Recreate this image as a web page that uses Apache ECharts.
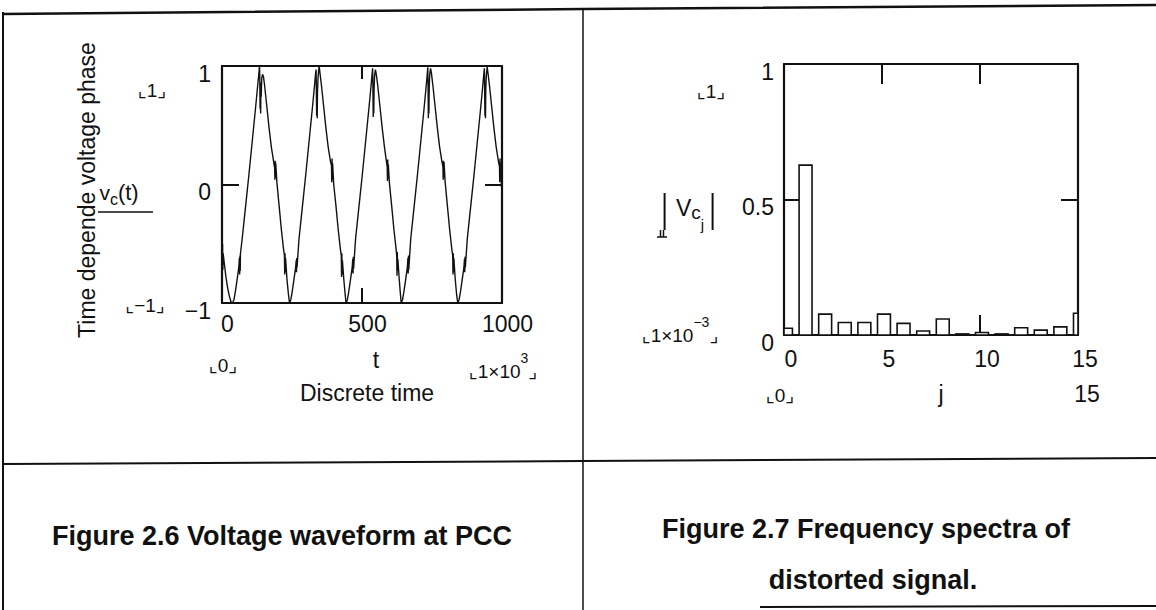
<!DOCTYPE html>
<html>
<head>
<meta charset="utf-8">
<script src="https://cdn.jsdelivr.net/npm/echarts@6.0.0/dist/echarts.min.js"></script>
<style>
  html, body { margin: 0; padding: 0; background: #fff; }
  #chart { width: 1156px; height: 610px; }
</style>
</head>
<body>
<div id="chart"></div>
<script>
// Phase voltage at the PCC: [discrete time t, v_c(t)]
const voltageSamples = [
  [0,-0.52],[1,-0.70],[2,-0.50],[3,-0.72],[4,-0.58],[8,-0.66],[14,-0.78],[20,-0.87],[26,-0.94],[32,-0.99],[38,-1.00],
  [43,-0.97],[48,-0.90],[54,-0.80],[60,-0.70],[62,-0.62],[63,-0.76],[64,-0.60],[65,-0.73],[66,-0.58],[72,-0.46],[80,-0.28],[88,-0.10],[96,0.08],[104,0.27],[112,0.46],[120,0.65],[126,0.80],[131,0.92],[134,1.00],[135,0.90],[136,0.64],[137,0.86],[138,0.60],[139,0.82],[140,0.74],[142,0.90],[145,0.93],[148,0.91],[152,0.84],[160,0.66],[168,0.48],[176,0.32],[184,0.20],[188,0.14],[189,0.04],[190,0.20],[191,0.06],[192,0.18],[196,0.02],[204,-0.18],[212,-0.38],[220,-0.55],[223,-0.60],[224,-0.76],[225,-0.58],[226,-0.74],[227,-0.62],[232,-0.80],[237,-0.92],[241,-1.00],
  [246,-0.97],[251,-0.90],[257,-0.80],[263,-0.70],[265,-0.64],[266,-0.74],[267,-0.62],[268,-0.70],[275,-0.46],[283,-0.28],[291,-0.10],[299,0.08],[307,0.27],[315,0.46],[323,0.65],[329,0.80],[334,0.93],[336,0.97],[337,0.80],[338,0.58],[339,0.84],[340,0.56],[341,0.78],[343,0.90],[345,0.96],[347,1.00],[350,0.94],[355,0.84],[363,0.66],[371,0.48],[379,0.32],[387,0.20],[391,0.16],[392,0.02],[393,0.22],[394,0.04],[395,0.18],[399,0.00],[407,-0.18],[415,-0.38],[423,-0.55],[426,-0.60],[427,-0.78],[428,-0.58],[429,-0.76],[430,-0.64],[435,-0.80],[440,-0.93],[443,-1.00],
  [448,-0.97],[453,-0.90],[459,-0.80],[465,-0.70],[467,-0.63],[468,-0.75],[469,-0.61],[470,-0.71],[477,-0.46],[485,-0.28],[493,-0.10],[501,0.08],[509,0.27],[517,0.46],[525,0.65],[531,0.80],[536,0.93],[538,0.98],[539,0.82],[540,0.57],[541,0.86],[542,0.60],[543,0.80],[545,0.92],[548,0.97],[551,0.93],[556,0.84],[564,0.66],[572,0.48],[580,0.32],[587,0.20],[590,0.15],[591,0.03],[592,0.21],[593,0.05],[594,0.17],[598,0.01],[606,-0.18],[614,-0.38],[622,-0.55],[624,-0.60],[625,-0.77],[626,-0.57],[627,-0.73],[628,-0.63],[633,-0.80],[637,-0.92],[640,-1.00],
  [645,-0.97],[650,-0.90],[656,-0.80],[662,-0.70],[664,-0.62],[665,-0.75],[666,-0.60],[667,-0.72],[674,-0.46],[682,-0.28],[690,-0.10],[698,0.08],[706,0.27],[714,0.46],[722,0.65],[728,0.80],[733,0.93],[735,0.99],[736,0.84],[737,0.56],[738,0.86],[739,0.60],[740,0.82],[742,0.93],[745,0.98],[748,0.94],[753,0.84],[761,0.66],[769,0.48],[777,0.32],[785,0.20],[789,0.15],[790,0.04],[791,0.20],[792,0.06],[793,0.19],[797,0.02],[805,-0.18],[813,-0.38],[821,-0.55],[824,-0.60],[825,-0.76],[826,-0.58],[827,-0.74],[828,-0.62],[833,-0.80],[838,-0.93],[842,-1.00],
  [847,-0.97],[852,-0.90],[858,-0.80],[864,-0.70],[866,-0.63],[867,-0.74],[868,-0.61],[869,-0.70],[876,-0.46],[884,-0.28],[892,-0.10],[900,0.08],[908,0.27],[916,0.46],[924,0.65],[930,0.80],[935,0.93],[937,0.98],[938,0.82],[939,0.58],[940,0.84],[941,0.56],[942,0.80],[944,0.92],[947,0.99],[950,0.94],[955,0.84],[963,0.66],[971,0.48],[979,0.32],[987,0.20],[991,0.15],[992,0.02],[993,0.22],[994,0.05],[995,0.18],[997,0.08],[998,-0.02],[1000,0.04]
];

// Spectrum magnitudes |Vc_j| for j = 0..15
const harmonicIndex = [0, 1, 2, 3, 4, 5, 6, 7, 8, 9, 10, 11, 12, 13, 14, 15];
const spectrumMagnitude = [0.025, 0.627, 0.077, 0.046, 0.046, 0.077, 0.043, 0.015, 0.059, 0.004, 0.009, 0.004, 0.027, 0.018, 0.030, 0.080];

// Tick label text
const voltageTickText = { '-1': '−1', '0': '0', '1': '1' };
const timeTickText = { '0': '0', '500': '500', '1000': '1000' };
const spectrumTickText = { '0': '0', '0.5': '0.5', '1': '1' };

const ink = '#111';
const face = '"Liberation Sans", Arial, "DejaVu Sans", sans-serif';

const spectrumData = harmonicIndex.map((j, i) => [j, spectrumMagnitude[i]]);

function frameAxis(gridIndex, position, min, max, interval, tickLen, label) {
  return {
    type: 'value', gridIndex, position, min, max, interval,
    axisLine: { show: true, onZero: false, lineStyle: { color: ink, width: 2.2 } },
    axisTick: { show: true, inside: true, length: tickLen, lineStyle: { color: ink, width: 2 } },
    axisLabel: label ? Object.assign({ color: ink, fontSize: 23, fontFamily: face }, label) : { show: false },
    splitLine: { show: false }
  };
}

function txt(x, y, text, size, extra, rotation) {
  return {
    type: 'text', x, y, rotation: rotation || 0, silent: true,
    style: Object.assign({ text, fill: ink, fontSize: size, fontFamily: face, align: 'center', verticalAlign: 'middle' }, extra || {})
  };
}

function line(points, width) {
  return { type: 'polyline', silent: true, shape: { points }, style: { stroke: ink, lineWidth: width, fill: 'none' } };
}

function richText(x, y, text, rich) {
  return { type: 'text', x, y, silent: true, style: { text, align: 'center', verticalAlign: 'middle', rich } };
}

function tok(size, valign) {
  return { fontSize: size, fontFamily: face, fill: ink, lineHeight: 30, verticalAlign: valign };
}

const barShift = 0.1;   // bars sit slightly right of their index
const barHalf = 0.33;   // half bar width in index units

const chart = echarts.init(document.getElementById('chart'), null, { renderer: 'svg', width: 1156, height: 610 });

chart.setOption({
  animation: false,
  backgroundColor: '#fff',
  grid: [
    { left: 222, top: 66, width: 280, height: 237 },
    { left: 784, top: 64, width: 294, height: 271 }
  ],
  xAxis: [
    frameAxis(0, 'bottom', 0, 1000, 500, 15, { margin: 9, padding: [0, 0, 0, 11], formatter: v => timeTickText[String(v)] }),
    frameAxis(0, 'top', 0, 1000, 500, 13, null),
    frameAxis(1, 'bottom', 0, 15, 5, 20, { margin: 12, padding: [0, 0, 0, 14] }),
    frameAxis(1, 'top', 0, 15, 5, 20, null)
  ],
  yAxis: [
    frameAxis(0, 'left', -1, 1, 1, 17, { margin: 11, verticalAlign: 'top', lineHeight: 15, formatter: v => voltageTickText[String(v)] }),
    frameAxis(0, 'right', -1, 1, 1, 17, null),
    frameAxis(1, 'left', 0, 1, 0.5, 15, { margin: 10, verticalAlign: 'top', lineHeight: 15, formatter: v => spectrumTickText[String(v)] }),
    frameAxis(1, 'right', 0, 1, 0.5, 17, null)
  ],
  series: [
    {
      type: 'line', xAxisIndex: 0, yAxisIndex: 0,
      data: voltageSamples, showSymbol: false, symbol: 'none',
      lineStyle: { color: ink, width: 1.4 }, clip: true
    },
    {
      type: 'custom', xAxisIndex: 2, yAxisIndex: 2,
      data: spectrumData,
      renderItem: function (params, api) {
        const j = api.value(0), v = api.value(1);
        const tl = api.coord([j + barShift - barHalf, v]);
        const br = api.coord([j + barShift + barHalf, 0]);
        const cs = params.coordSys;
        const rect = echarts.graphic.clipRectByRect(
          { x: tl[0], y: tl[1], width: br[0] - tl[0], height: br[1] - tl[1] },
          { x: cs.x, y: cs.y, width: cs.width, height: cs.height }
        );
        if (!rect) return;
        return { type: 'rect', shape: rect, style: { fill: '#fff', stroke: ink, lineWidth: 1.6 } };
      }
    }
  ],
  graphic: {
    elements: [
      // table rules
      line([[3, 14], [583, 9], [1156, 5]], 2.5),
      line([[3, 12], [3, 610]], 2),
      line([[583, 9], [583, 610]], 1.5),
      line([[3, 464], [583, 461], [1156, 458]], 2),
      line([[760, 607], [1156, 606]], 2),

      // left plot annotations
      txt(87, 190, 'Time depende voltage phase', 23, {}, Math.PI / 2),
      txt(152, 90, '⌞1⌟', 19),
      richText(119, 192, '{v|v}{c|c}{p|(t)}', { v: tok(21, 'middle'), c: tok(16, 'bottom'), p: tok(22, 'middle') }),
      line([[98, 212], [153, 212]], 1.5),
      txt(145, 305, '⌞−1⌟', 19),
      txt(223, 365, '⌞0⌟', 19),
      txt(376, 360, 't', 23),
      richText(503, 366, '{b|⌞1×10}{s|3}{b|⌟}', { b: tok(19, 'bottom'), s: tok(14, 'top') }),
      txt(367, 393, 'Discrete time', 23),

      // right plot annotations
      txt(711, 91, '⌞1⌟', 19),
      line([[664.6, 193], [664.6, 230]], 2),
      line([[712.6, 193], [712.6, 230]], 2),
      richText(690, 212, '{V|V}{c|c}{j|j}', {
        V: { fontSize: 23, fontFamily: face, fill: ink, lineHeight: 40, verticalAlign: 'top', padding: [4, 0, 0, 0] },
        c: { fontSize: 19, fontFamily: face, fill: ink, lineHeight: 40, verticalAlign: 'middle' },
        j: { fontSize: 15, fontFamily: face, fill: ink, lineHeight: 40, verticalAlign: 'bottom' }
      }),
      line([[657, 237], [667, 237]], 1.5),
      line([[660.5, 230], [660.5, 237]], 1.5),
      line([[663.5, 230], [663.5, 237]], 1.5),
      richText(680, 330, '{b|⌞1×10}{s|−3}{b|⌟}', { b: tok(19, 'bottom'), s: tok(14, 'top') }),
      txt(780, 395, '⌞0⌟', 19),
      txt(941, 394, 'j', 23),
      txt(1087, 394, '15', 23),

      // captions
      txt(282, 536, 'Figure 2.6 Voltage waveform at PCC', 27, { fontWeight: 'bold' }),
      txt(866, 529, 'Figure 2.7 Frequency spectra of', 27, { fontWeight: 'bold' }),
      txt(873, 580, 'distorted signal.', 27, { fontWeight: 'bold' })
    ]
  }
});
</script>
</body>
</html>
